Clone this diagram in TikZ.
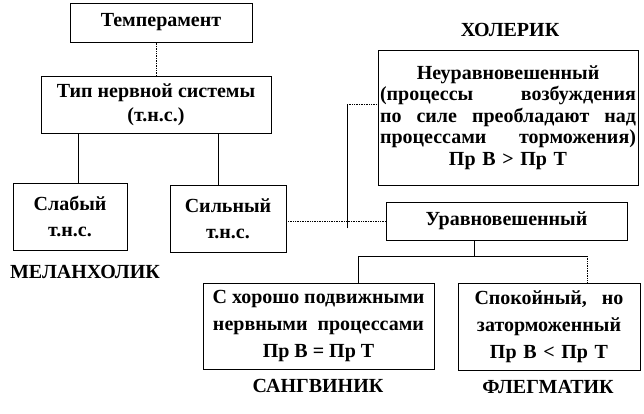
\documentclass[tikz,border=0pt]{standalone}
\usepackage{fontspec}
\setmainfont{Liberation Serif}
\begin{document}
\begin{tikzpicture}[x=1pt,y=-1pt,
  box/.style={draw, line width=0.7pt, inner sep=0pt, align=center, font=\bfseries\fontsize{20}{26}\selectfont},
  lbl/.style={inner sep=0pt, font=\bfseries\fontsize{20}{22}\selectfont},
  conn/.style={line width=0.7pt},
  dotconn/.style={line width=0.7pt, densely dotted}]
\useasboundingbox[fill=white] (0,0) rectangle (644,414);
\node[box, minimum width=182pt, minimum height=39pt] (temp) at (161,22.5) {Темперамент};
\node[box, minimum width=230pt, minimum height=57pt, font=\bfseries\fontsize{20}{24}\selectfont] (type) at (156,104.5) {Тип нервной системы\\(т.н.с.)};
\node[box, minimum width=114pt, minimum height=67pt] (slab) at (70,216.5) {Слабый\\т.н.с.};
\node[box, minimum width=116pt, minimum height=67pt] (sil) at (228,218.5) {Сильный\\т.н.с.};
\node[box, minimum width=260pt, minimum height=135pt, text width=256pt, font=\bfseries\fontsize{20}{21.5}\selectfont] (chol) at (508,117.5) {Неуравновешенный\\(процессы\hfill возбуждения\\по\hfill силе\hfill преобладают\hfill над\\процессами\hfill торможения)\\Пр В > Пр Т};
\node[box, minimum width=241pt, minimum height=38pt] (ur) at (506.5,221) {Уравновешенный};
\node[box, minimum width=231pt, minimum height=86pt, font=\bfseries\fontsize{20}{27}\selectfont] (sang) at (318.5,326) {С хорошо подвижными\\нервными\ \ процессами\\Пр В = Пр Т};
\node[box, minimum width=182pt, minimum height=87pt, text width=149pt, font=\bfseries\fontsize{20}{27}\selectfont] (fleg) at (549,326.5) {Спокойный,\hfill но\\заторможенный\\Пр В < Пр Т};
\node[lbl] (lchol) at (510,30) {ХОЛЕРИК};
\node[lbl] (lmel) at (85,272) {МЕЛАНХОЛИК};
\node[lbl] (lsang) at (318,386) {САНГВИНИК};
\node[lbl] (lfleg) at (548,387) {ФЛЕГМАТИК};
% connectors
\draw[dotconn] (type.north) -- (type.north |- temp.south);
\draw[conn] ([xshift=38pt]type.south west) coordinate (a1) -- (a1 |- slab.north);
\draw[conn] ([xshift=178pt]type.south west) coordinate (a2) -- (a2 |- sil.north);
\draw[dotconn] (sil.east |- ur.west) -- (ur.west);
\coordinate (k) at ([yshift=13.5pt]chol.west);
\coordinate (v) at (347,228);
\draw[conn] (v) -- (v |- k);
\draw[dotconn] (v |- k) -- (k);
\coordinate (f) at (474,256);
\coordinate (fl) at (358,256);
\coordinate (fr) at (587,256);
\draw[conn] (f |- ur.south) -- (f);
\draw[conn] (fl |- sang.north) -- (fl) -- (fr);
\draw[dotconn] (fr) -- (fr |- fleg.north);
\end{tikzpicture}
\end{document}
